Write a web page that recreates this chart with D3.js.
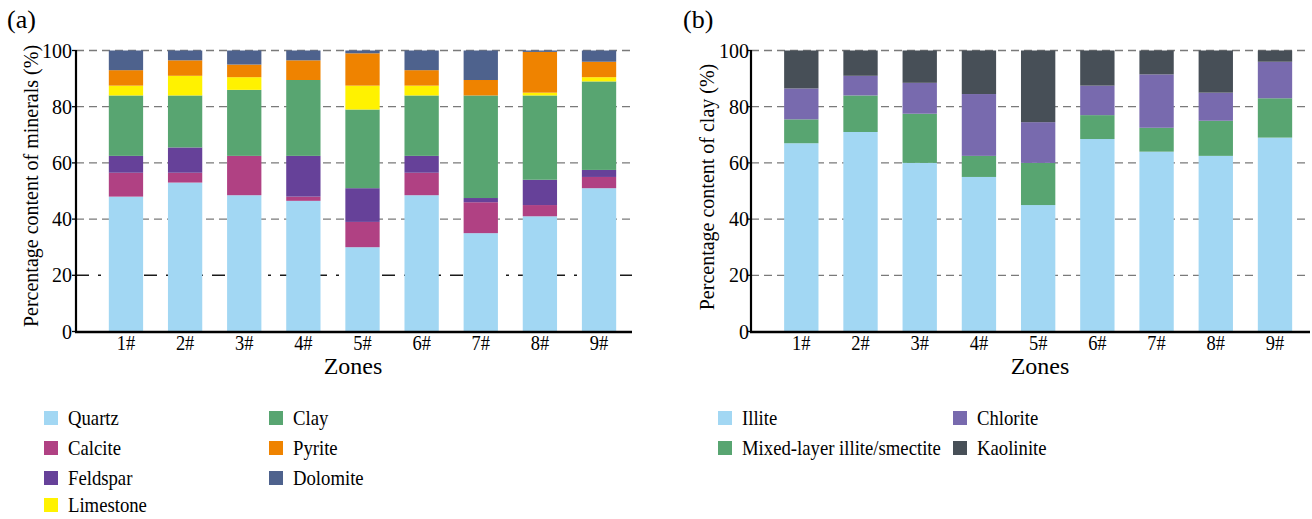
<!DOCTYPE html>
<html>
<head>
<meta charset="utf-8">
<script src="https://cdn.jsdelivr.net/npm/d3@7"></script>
<style>
  html, body { margin: 0; padding: 0; background: #fff; }
  svg { display: block; }
  text { font-family: "Liberation Serif", "Times New Roman", serif; fill: #000; }
</style>
</head>
<body>
<svg id="chart" width="1312" height="519"></svg>
<script>
// Zones shared by both panels
const zones = ["1#", "2#", "3#", "4#", "5#", "6#", "7#", "8#", "9#"];
const yTicks = [0, 20, 40, 60, 80, 100];

// (a) whole-rock mineral composition, % per zone
const mineralNames = ["Quartz", "Calcite", "Feldspar", "Limestone", "Clay", "Pyrite", "Dolomite"];
const quartz    = [48,   53,  48.5, 46.5, 30,  48.5, 35,   41,   51];
const calcite   = [8.5,  3.5, 14,   1.5,  9,   8,    11,   4,    4];
const feldspar  = [6,    9,   0,    14.5, 12,  6,    1.5,  9,    2.5];
const clay      = [21.5, 18.5,23.5, 27,   28,  21.5, 36.5, 30,   31.5];
const limestone = [3.5,  7,   4.5,  0,    8.5, 3.5,  0,    1,    1.5];
const pyrite    = [5.5,  5.5, 4.5,  7,    11.5,5.5,  5.5,  14.5, 5.5];
const dolomite  = [7,    3.5, 5,    3.5,  1,   7,    10.5, 0.5,  4];

// (b) clay mineral composition, % per zone
const clayNames = ["Illite", "Mixed-layer illite/smectite", "Chlorite", "Kaolinite"];
const illite    = [67,  71, 60,   55,  45,   68.5, 64,  62.5, 69];
const mixedIS   = [8.5, 13, 17.5, 7.5, 15,   8.5,  8.5, 12.5, 14];
const chlorite  = [11,  7,  11,   22,  14.5, 10.5, 19,  10,   13];
const kaolinite = [13.5,9,  11.5, 15.5,25.5, 12.5, 8.5, 15,   4];

const colors = {
  Quartz: "#a2d7f3", Calcite: "#b04183", Feldspar: "#664199", Limestone: "#fff200",
  Clay: "#58a571", Pyrite: "#ef8300", Dolomite: "#4e628d",
  Illite: "#a2d7f3", "Mixed-layer illite/smectite": "#58a571",
  Chlorite: "#786aae", Kaolinite: "#474f57"
};

// stacking order bottom→top and values
const mineralSeries = { Quartz: quartz, Calcite: calcite, Feldspar: feldspar,
  Clay: clay, Limestone: limestone, Pyrite: pyrite, Dolomite: dolomite };
const mineralStackOrder = ["Quartz", "Calcite", "Feldspar", "Clay", "Limestone", "Pyrite", "Dolomite"];
const claySeries = { Illite: illite, "Mixed-layer illite/smectite": mixedIS,
  Chlorite: chlorite, Kaolinite: kaolinite };
const clayStackOrder = ["Illite", "Mixed-layer illite/smectite", "Chlorite", "Kaolinite"];

const svg = d3.select("#chart");

// text that is slightly narrower than the regular face
function narrowText(sel, x, y, size, sx) {
  return sel.append("text")
    .attr("transform", `translate(${x},${y}) scale(${sx},1)`)
    .attr("font-size", size);
}

function panel(cfg) {
  const g = svg.append("g");
  const y = d3.scaleLinear().domain([0, 100]).range([331.5, 50.5]);
  const x = d3.scaleBand().domain(zones).range(cfg.bandRange)
    .paddingInner(0.42).paddingOuter(0.21);

  // gridlines
  g.append("g").selectAll("line").data(yTicks.filter(t => t > 0)).join("line")
    .attr("x1", cfg.axisX).attr("x2", cfg.gridEnd)
    .attr("y1", d => y(d)).attr("y2", d => y(d))
    .attr("stroke", d => (cfg.darkTwenty && d === 20) ? "#1a1a1a" : "#7a7a7a")
    .attr("stroke-width", d => (cfg.darkTwenty && d === 20) ? 1.6 : 1.3)
    .attr("stroke-dasharray", d => (cfg.darkTwenty && d === 20) ? "13,9,3,9" : "8,5");

  // stacked bars
  const rows = zones.map((z, i) => {
    const r = { zone: z };
    cfg.order.forEach(k => { r[k] = cfg.series[k][i]; });
    return r;
  });
  const stacked = d3.stack().keys(cfg.order)(rows);
  g.append("g").selectAll("g").data(stacked).join("g")
    .attr("fill", d => colors[d.key])
    .selectAll("rect").data(d => d).join("rect")
    .attr("x", d => x(d.data.zone))
    .attr("width", x.bandwidth())
    .attr("y", d => y(d[1]))
    .attr("height", d => Math.max(0, y(d[0]) - y(d[1])));

  // axis lines
  g.append("line").attr("x1", cfg.axisX).attr("x2", cfg.axisX)
    .attr("y1", y(100) - 0.5).attr("y2", y(0) + 1.5)
    .attr("stroke", "#000").attr("stroke-width", 2.2);
  g.append("line").attr("x1", cfg.axisX - 1).attr("x2", cfg.axisEnd)
    .attr("y1", y(0) + 0.5).attr("y2", y(0) + 0.5)
    .attr("stroke", "#000").attr("stroke-width", 2.6);
  g.append("g").selectAll("line").data(yTicks).join("line")
    .attr("x1", cfg.axisX - 4).attr("x2", cfg.axisX)
    .attr("y1", d => y(d)).attr("y2", d => y(d))
    .attr("stroke", "#000").attr("stroke-width", 1.3);

  // y tick labels
  g.append("g").selectAll("text").data(yTicks).join("text")
    .attr("x", cfg.axisX - cfg.labelGap).attr("y", d => y(d))
    .attr("text-anchor", "end").attr("dominant-baseline", "central")
    .attr("font-size", 20).text(d => d);

  // x tick labels
  zones.forEach(z => {
    narrowText(g, x(z) + x.bandwidth() / 2, 350, 20.5, 0.9)
      .attr("text-anchor", "middle").text(z);
  });

  // axis titles
  g.append("text").attr("x", cfg.zonesX).attr("y", 374)
    .attr("text-anchor", "middle").attr("font-size", 24).text("Zones");
  g.append("text")
    .attr("transform", `translate(${cfg.yTitleX},${cfg.yTitleY}) rotate(-90)`)
    .attr("text-anchor", "middle").attr("font-size", 20).text(cfg.yTitle);

  // panel letter
  g.append("text").attr("x", cfg.letterX).attr("y", 28)
    .attr("font-size", 26).text(cfg.letter);

  // legend
  const lg = g.append("g");
  cfg.legend.forEach((col, ci) => {
    col.forEach((name, ri) => {
      const lx = cfg.legendX[ci], ly = cfg.legendY[ri];
      lg.append("rect").attr("x", lx).attr("y", ly - 7).attr("width", 14).attr("height", 14)
        .attr("fill", colors[name]);
      narrowText(lg, lx + cfg.legendTextGap, ly, 21.5, 0.87)
        .attr("dominant-baseline", "central").text(name);
    });
  });
}

panel({
  letter: "(a)", letterX: 7,
  series: mineralSeries, order: mineralStackOrder,
  bandRange: [96.4, 628.6], axisX: 76, axisEnd: 632, gridEnd: 632, labelGap: 4,
  darkTwenty: true,
  zonesX: 353, yTitle: "Percentage content of minerals (%)", yTitleX: 38, yTitleY: 186,
  legend: [["Quartz", "Calcite", "Feldspar", "Limestone"], ["Clay", "Pyrite", "Dolomite"]],
  legendX: [44, 269], legendY: [418, 448, 478, 505], legendTextGap: 24
});

panel({
  letter: "(b)", letterX: 683,
  series: claySeries, order: clayStackOrder,
  bandRange: [771.7, 1304.6], axisX: 751, axisEnd: 1310, gridEnd: 1310, labelGap: 2,
  darkTwenty: false,
  zonesX: 1040, yTitle: "Percentage content of clay (%)", yTitleX: 714, yTitleY: 187,
  legend: [["Illite", "Mixed-layer illite/smectite"], ["Chlorite", "Kaolinite"]],
  legendX: [718, 953], legendY: [418, 448], legendTextGap: 24
});
</script>
</body>
</html>
